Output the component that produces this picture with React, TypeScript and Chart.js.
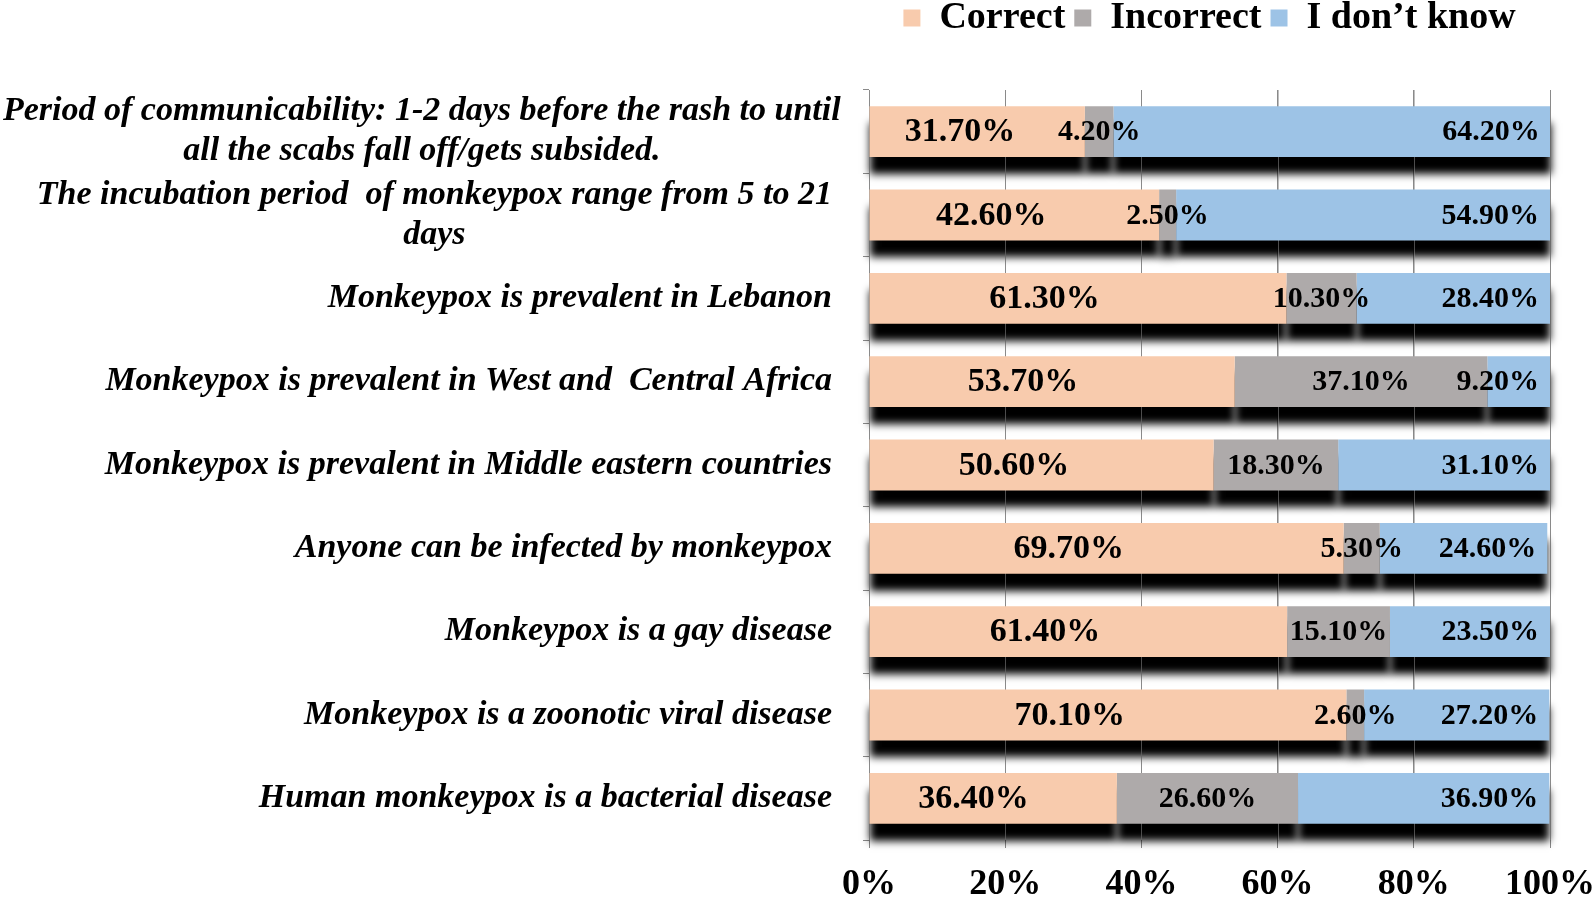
import React, { useEffect, useRef } from "react";
import { Chart, registerables } from "chart.js";

Chart.register(...registerables);

const CATEGORIES: string[][] = [
  ["Period of communicability: 1-2 days before the rash to until", "all the scabs fall off/gets subsided."],
  ["The incubation period  of monkeypox range from 5 to 21", "days"],
  ["Monkeypox is prevalent in Lebanon"],
  ["Monkeypox is prevalent in West and  Central Africa"],
  ["Monkeypox is prevalent in Middle eastern countries"],
  ["Anyone can be infected by monkeypox"],
  ["Monkeypox is a gay disease"],
  ["Monkeypox is a zoonotic viral disease"],
  ["Human monkeypox is a bacterial disease"],
];
const CORRECT = [31.7, 42.6, 61.3, 53.7, 50.6, 69.7, 61.4, 70.1, 36.4];
const INCORRECT = [4.2, 2.5, 10.3, 37.1, 18.3, 5.3, 15.1, 2.6, 26.6];
const DONT_KNOW = [64.2, 54.9, 28.4, 9.2, 31.1, 24.6, 23.5, 27.2, 36.9];
const SERIES_NAMES = ["Correct", "Incorrect", "I don’t know"];
const SERIES_COLORS = ["#F8CBAD", "#AEAAAA", "#9DC3E6"];
const X_TICKS = [0, 20, 40, 60, 80, 100];

const FONT = "'Liberation Serif', 'Times New Roman', serif";
const GRID = "#8a8a8a";
const LEGEND_BAND = 90;
const LEGEND_SHIFT = -10;

const legendPatch = {
  id: "legendPatch",
  beforeLayout(chart: any) {
    const lg = chart.legend;
    if (!lg || lg.__patched) return;
    lg.__patched = true;
    const fit = lg.fit.bind(lg);
    lg.fit = () => {
      fit();
      lg.height = LEGEND_BAND;
    };
    const draw = lg.draw.bind(lg);
    lg.draw = (...a: any[]) => {
      const c = chart.ctx;
      c.save();
      c.translate(0, LEGEND_SHIFT);
      draw(...a);
      c.restore();
    };
  },
};

const shadowPlugin = {
  id: "barShadow",
  beforeDatasetsDraw(chart: any) {
    const ctx = chart.ctx;
    const OFF = 4000;
    ctx.save();
    ctx.fillStyle = "#000";
    ctx.shadowColor = "rgba(0,0,0,1)";
    ctx.shadowBlur = 8;
    ctx.shadowOffsetX = OFF;
    ctx.shadowOffsetY = 17;
    chart.data.datasets.forEach((_: any, di: number) => {
      const meta = chart.getDatasetMeta(di);
      meta.data.forEach((el: any) => {
        const { x, y, base, height } = el.getProps(["x", "y", "base", "height"], true);
        const left = Math.min(x, base);
        const w = Math.abs(x - base);
        ctx.fillRect(left - OFF, y - height / 2, w, height);
      });
    });
    ctx.restore();
    // gridlines show through the shadows
    const sx = chart.scales.x;
    const { top, bottom } = chart.chartArea;
    ctx.save();
    ctx.strokeStyle = "rgba(138,138,138,0.55)";
    ctx.lineWidth = 1;
    X_TICKS.forEach((v) => {
      const px = Math.round(sx.getPixelForValue(v)) + 0.5;
      ctx.beginPath();
      ctx.moveTo(px, top);
      ctx.lineTo(px, bottom);
      ctx.stroke();
    });
    ctx.restore();
  },
};

const valueLabels = {
  id: "valueLabels",
  afterDatasetsDraw(chart: any) {
    const ctx = chart.ctx;
    ctx.save();
    ctx.fillStyle = "#000";
    ctx.textBaseline = "middle";
    chart.data.datasets.forEach((ds: any, di: number) => {
      const meta = chart.getDatasetMeta(di);
      meta.data.forEach((el: any, i: number) => {
        const { x, y, base } = el.getProps(["x", "y", "base"], true);
        const txt = Number(ds.data[i]).toFixed(2) + "%";
        let tx: number;
        if (di === 0) {
          ctx.font = `bold 34px ${FONT}`;
          ctx.textAlign = "center";
          tx = base + (x - base) * 0.42;
        } else if (di === 1) {
          ctx.font = `bold 30px ${FONT}`;
          ctx.textAlign = "center";
          tx = (x + base) / 2;
        } else {
          ctx.font = `bold 30px ${FONT}`;
          ctx.textAlign = "right";
          tx = x - 11;
        }
        ctx.fillText(txt, tx, y + 1);
      });
    });
    ctx.restore();
  },
};

const yLabels = {
  id: "yLabels",
  afterDraw(chart: any) {
    const ctx = chart.ctx;
    const s = chart.scales.y;
    ctx.save();
    ctx.font = `italic bold 34px ${FONT}`;
    ctx.fillStyle = "#000";
    ctx.textBaseline = "middle";
    ctx.textAlign = "center";
    const right = chart.chartArea.left - 37;
    const LH = 40;
    CATEGORIES.forEach((lines, i) => {
      const yc = s.getPixelForTick(i);
      const w = Math.max(...lines.map((l) => ctx.measureText(l).width));
      const cx = Math.max(right - w / 2, w / 2 + 3);
      lines.forEach((l, k) => {
        ctx.fillText(l, cx, yc + (k - (lines.length - 1) / 2) * LH);
      });
    });
    ctx.restore();
  },
};

export default function App() {
  const ref = useRef<HTMLCanvasElement | null>(null);
  useEffect(() => {
    if (!ref.current) return;
    Chart.defaults.font.family = FONT;
    const chart = new Chart(ref.current, {
      type: "bar",
      data: {
        labels: CATEGORIES,
        datasets: [CORRECT, INCORRECT, DONT_KNOW].map((d, k) => ({
          label: SERIES_NAMES[k],
          data: d,
          backgroundColor: SERIES_COLORS[k],
          borderWidth: 0,
          borderSkipped: false,
          barPercentage: 0.61,
          categoryPercentage: 1,
        })),
      },
      options: {
        indexAxis: "y",
        animation: false,
        responsive: true,
        maintainAspectRatio: false,
        events: [],
        layout: { padding: { left: 0, right: 44, top: 0, bottom: 0 } },
        scales: {
          x: {
            stacked: true,
            min: 0,
            max: 100,
            afterBuildTicks: (s: any) => {
              s.ticks = X_TICKS.map((v) => ({ value: v }));
            },
            afterFit: (s: any) => {
              s.height = 59;
              s.paddingRight = 0;
              s.paddingLeft = 0;
            },
            border: { display: false },
            grid: { color: GRID, lineWidth: 1, tickLength: 8, drawTicks: true },
            ticks: {
              color: "#000",
              padding: 15,
              font: { family: FONT, size: 36, weight: "bold" },
              callback: (v: any) => `${v}%`,
            },
          },
          y: {
            stacked: true,
            afterFit: (s: any) => {
              s.width = 869;
            },
            border: { display: false },
            grid: { drawOnChartArea: false, drawTicks: true, tickLength: 6, color: GRID, offset: true },
            ticks: { display: false },
          },
        },
        plugins: {
          tooltip: { enabled: false },
          legend: {
            position: "top",
            fullSize: false,
            labels: {
              color: "#000",
              boxWidth: 17,
              boxHeight: 17,
              padding: 9,
              font: { family: FONT, size: 38, weight: "bold" },
            },
          },
        },
      },
      plugins: [legendPatch, shadowPlugin, valueLabels, yLabels],
    } as any);
    return () => chart.destroy();
  }, []);
  return (
    <div style={{ position: "fixed", left: 0, top: 0, width: 1594, height: 899, background: "#fff" }}>
      <canvas ref={ref} />
    </div>
  );
}
